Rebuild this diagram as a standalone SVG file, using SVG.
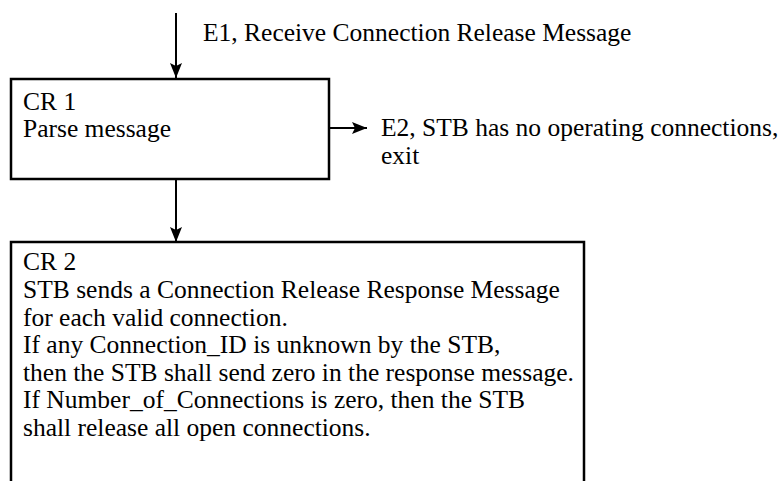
<svg xmlns="http://www.w3.org/2000/svg" width="781" height="481" viewBox="0 0 781 481">
<style>
text{font-family:'Liberation Serif','DejaVu Serif',serif;font-size:25.5px;fill:#000}
.box{fill:#fff;stroke:#000;stroke-width:2.5}
.conn{stroke:#000;stroke-width:2;fill:none}
</style>
<defs>
<marker id="ah" markerWidth="15" markerHeight="12" viewBox="0 0 15 12" refX="15" refY="6" orient="auto" markerUnits="userSpaceOnUse">
<path d="M0,0 L15,6 L0,12 L3,6 Z" fill="#000"/>
</marker>
</defs>
<rect width="781" height="481" fill="#fff"/>
<g id="connectors">
<line class="conn" x1="176" y1="13" x2="176" y2="78" marker-end="url(#ah)"/>
<line class="conn" x1="329" y1="128" x2="367" y2="128" marker-end="url(#ah)"/>
<line class="conn" x1="176" y1="179" x2="176" y2="242" marker-end="url(#ah)"/>
</g>
<g id="e1">
<text x="203" y="41">E1, Receive Connection Release Message</text>
</g>
<g id="cr1">
<rect class="box" x="11" y="79" width="318" height="100"/>
<text x="23" y="110">CR 1</text>
<text x="23" y="137">Parse message</text>
</g>
<g id="e2">
<text x="381" y="136">E2, STB has no operating connections,</text>
<text x="381" y="164">exit</text>
</g>
<g id="cr2">
<path class="box" d="M11,490 L11,242 L584,242 L584,490"/>
<text x="23" y="270">CR 2</text>
<text x="23" y="298">STB sends a Connection Release Response Message</text>
<text x="23" y="326">for each valid connection.</text>
<text x="23" y="353">If any Connection_ID is unknown by the STB,</text>
<text x="23" y="381">then the STB shall send zero in the response message.</text>
<text x="23" y="408">If Number_of_Connections is zero, then the STB</text>
<text x="23" y="436">shall release all open connections.</text>
</g>
</svg>
